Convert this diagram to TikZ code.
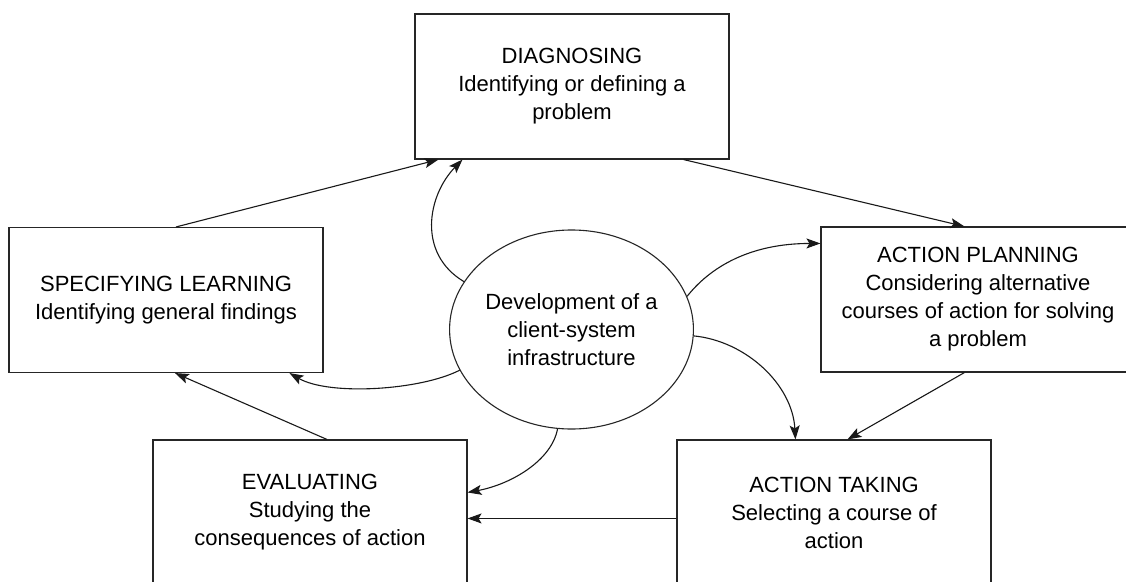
\documentclass[tikz,border=0pt]{standalone}
\usepackage{fontspec}
\setmainfont{Liberation Sans}
\usetikzlibrary{shapes.geometric,arrows.meta,calc}
\begin{document}
\begin{tikzpicture}[x=1pt,y=-1pt,
  every node/.style={font=\fontsize{22}{28}\selectfont, text=black, align=center, inner sep=0pt},
  stagebox/.style={draw=black!85, line width=1.1pt, rectangle, minimum width=314pt, minimum height=145pt},
  hub/.style={draw=black!85, line width=1.1pt, ellipse, minimum width=241pt, minimum height=199pt},
  conn/.style={draw=black!90, line width=1.1pt, -{Stealth[length=14pt,width=10pt,inset=3pt]}}]
\useasboundingbox (0,0) rectangle (1126,581);
\fill[white] (0,0) rectangle (1126,581);
\clip (0,0) rectangle (1126,581);

\node[stagebox] (diag) at (572,86.5) {DIAGNOSING\\Identifying or defining a\\problem};
\node[stagebox] (plan) at (978,299.5) {ACTION PLANNING\\Considering alternative\\courses of action for solving\\a problem};
\node[stagebox] (take) at (834,512.5) {ACTION TAKING\\Selecting a course of\\action};
\node[stagebox] (eval) at (310,512.5) {EVALUATING\\Studying the\\consequences of action};
\node[stagebox] (spec) at (166,300) {SPECIFYING LEARNING\\Identifying general findings};
\node[hub] (hub) at (571.5,329.5) {Development of a\\client-system\\infrastructure};

% cycle
\draw[conn] ($(spec.north)+(10,0)$) -- ($(diag.south west)+(24,0)$);
\draw[conn] ($(diag.south east)+(-46,0)$) -- ($(plan.north west)+(144,0)$);
\draw[conn] ($(plan.south west)+(144,0)$) -- ($(take.north west)+(171,0)$);
\draw[conn] ($(take.north west)+(0,79)$) -- ($(eval.north east)+(0,79)$);
\draw[conn] ($(eval.north)+(17,0)$) -- ($(spec.south)+(9,0)$);

% hub connectors
\draw[conn] (hub.156.8) .. controls +(-47,-28) and +(-35,36) .. ($(diag.south west)+(48,0)$);
\draw[conn] (hub.16) .. controls +(23,-29) and +(-71,0) .. ($(plan.north west)+(0,17)$);
\draw[conn] (hub.-3.5) .. controls +(52,5) and +(-3,-55) .. ($(take.north west)+(119,0)$);
\draw[conn] (hub.262.2) .. controls +(-6,32) and +(43,-8) .. ($(eval.north east)+(0,53)$);
\draw[conn] (hub.200.7) .. controls +(-39,20) and +(40,23) .. ($(spec.south west)+(281,0)$);
\end{tikzpicture}
\end{document}
